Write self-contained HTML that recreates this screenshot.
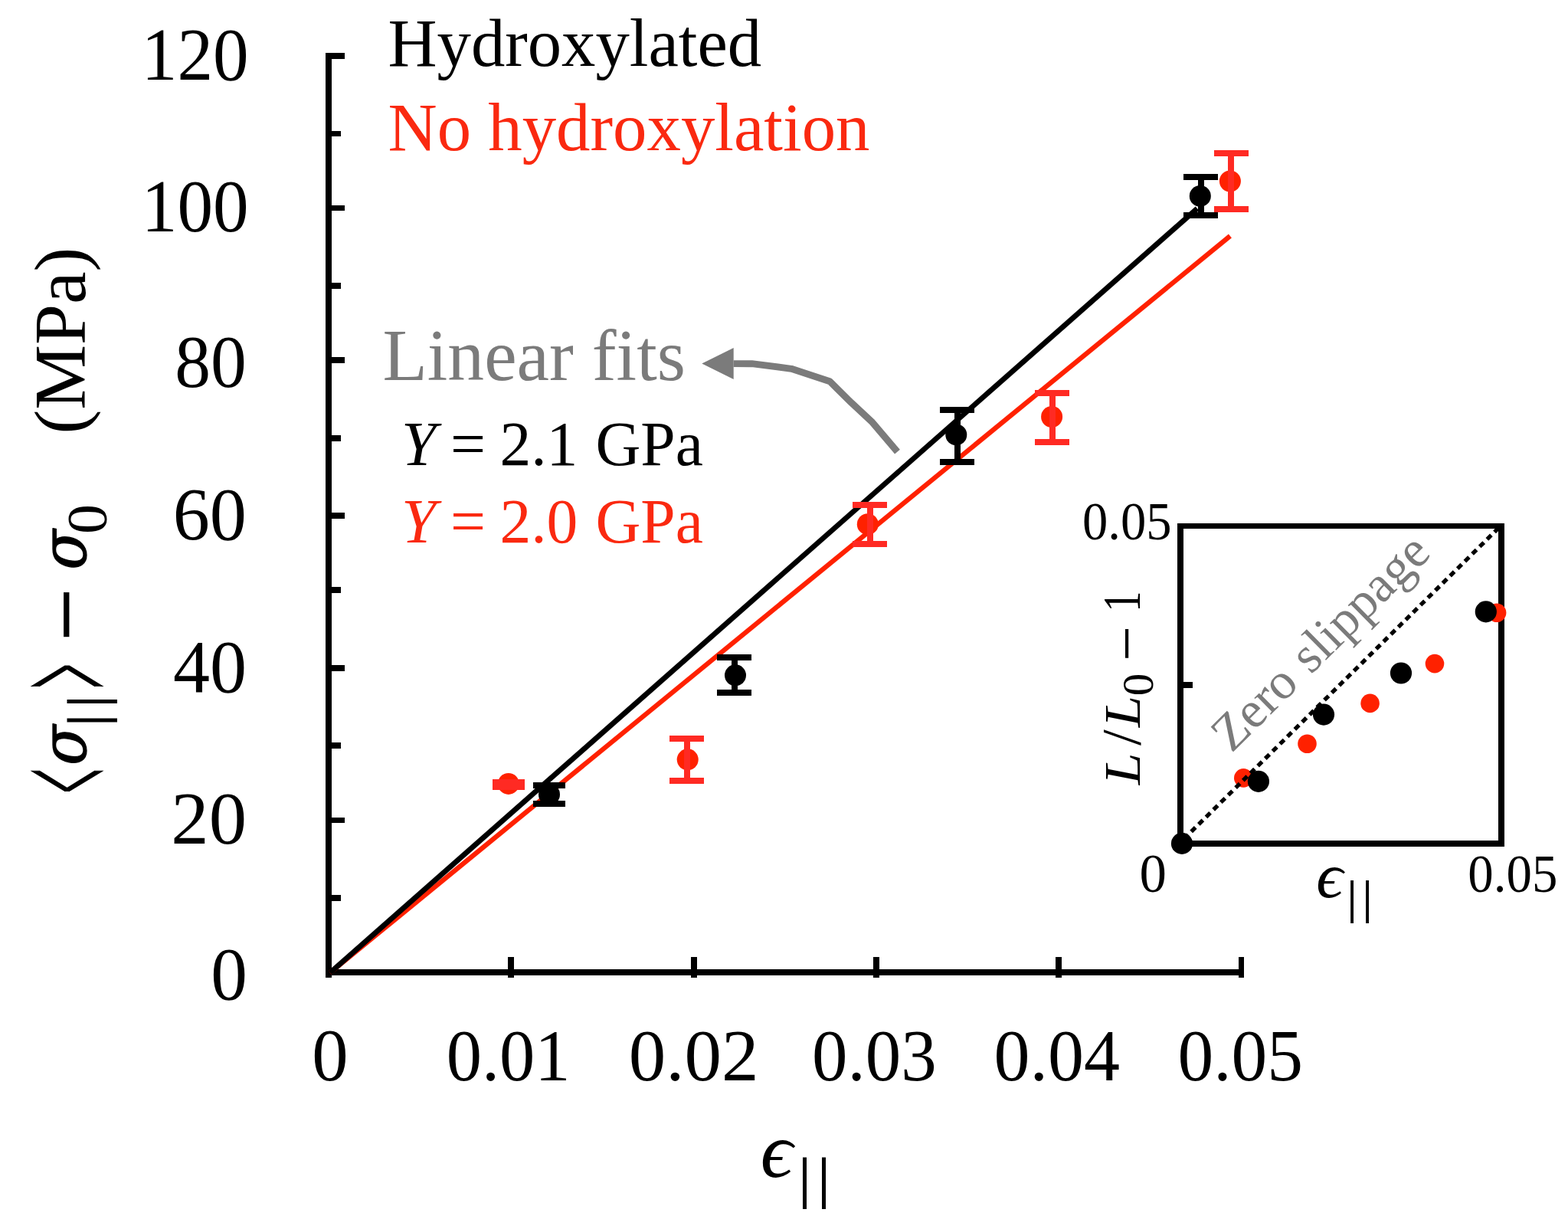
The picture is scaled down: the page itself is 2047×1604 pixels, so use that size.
<!DOCTYPE html>
<html lang="en"><head><meta charset="utf-8"><title>Stress-strain plot</title>
<style>
html,body{margin:0;padding:0;background:#fff;}
body{width:2047px;height:1604px;overflow:hidden;}
svg{display:block;}
text{font-family:"Liberation Serif", serif;}
.it{font-style:italic;}
</style></head><body>
<svg width="2047" height="1604" viewBox="0 0 2047 1604">
<rect width="2047" height="1604" fill="#fff"/>
<g shape-rendering="crispEdges" fill="#000">
<rect x="425" y="69" width="8" height="1207"/>
<rect x="425" y="1265" width="1199" height="8"/>
<rect x="429" y="69" width="21" height="8"/>
<rect x="429" y="171" width="16" height="7"/>
<rect x="429" y="268" width="21" height="7"/>
<rect x="429" y="369" width="16" height="8"/>
<rect x="429" y="466" width="21" height="8"/>
<rect x="429" y="568" width="16" height="8"/>
<rect x="429" y="669" width="21" height="8"/>
<rect x="429" y="766" width="16" height="8"/>
<rect x="429" y="868" width="21" height="8"/>
<rect x="429" y="969" width="16" height="8"/>
<rect x="429" y="1067" width="21" height="7"/>
<rect x="429" y="1168" width="16" height="8"/>
<rect x="663" y="1249" width="8" height="27"/>
<rect x="902" y="1249" width="8" height="27"/>
<rect x="1140" y="1249" width="8" height="27"/>
<rect x="1378" y="1249" width="8" height="27"/>
<rect x="1617" y="1249" width="7" height="27"/>
</g>
<line x1="430.8" y1="1269.5" x2="1605.9" y2="308" stroke="#ff2100" stroke-width="6.3"/>
<line x1="430.9" y1="1269.5" x2="1563" y2="272.1" stroke="#000" stroke-width="6.9"/>
<circle cx="663.8" cy="1022.9" r="14" fill="#ff2100"/><g fill="#ff2a23" shape-rendering="crispEdges"><rect x="660" y="1020.5" width="8" height="6.7"/><rect x="643" y="1016.5" width="42" height="8"/><rect x="643" y="1023.2" width="42" height="8"/></g>
<circle cx="897.7" cy="991.3" r="14" fill="#ff2100"/><g fill="#ff2a23" shape-rendering="crispEdges"><rect x="892.7" y="963.7" width="8" height="54.9"/><rect x="874.2" y="959.7" width="45" height="8"/><rect x="874.2" y="1014.6" width="45" height="8"/></g>
<circle cx="1132.8" cy="684.2" r="14" fill="#ff2100"/><g fill="#ff2a23" shape-rendering="crispEdges"><rect x="1131.7" y="659" width="8" height="50.6"/><rect x="1113.2" y="655" width="45" height="8"/><rect x="1113.2" y="705.6" width="45" height="8"/></g>
<circle cx="1373.1" cy="544" r="14" fill="#ff2100"/><g fill="#ff2a23" shape-rendering="crispEdges"><rect x="1369.8" y="513.2" width="8" height="63.9"/><rect x="1351.3" y="509.2" width="45" height="8"/><rect x="1351.3" y="573.1" width="45" height="8"/></g>
<circle cx="1605.9" cy="236.5" r="14" fill="#ff2100"/><g fill="#ff2a23" shape-rendering="crispEdges"><rect x="1603.3" y="200" width="8" height="72.5"/><rect x="1584.8" y="196" width="45" height="8"/><rect x="1584.8" y="268.5" width="45" height="8"/></g>
<circle cx="717" cy="1037" r="14" fill="#000"/><g fill="#000" shape-rendering="crispEdges"><rect x="713.1" y="1025" width="8" height="24"/><rect x="696.1" y="1021" width="42" height="8"/><rect x="696.1" y="1045" width="42" height="8"/></g>
<circle cx="960" cy="881.3" r="14" fill="#000"/><g fill="#000" shape-rendering="crispEdges"><rect x="954.8" y="857.6" width="8" height="46.4"/><rect x="936.3" y="853.6" width="45" height="8"/><rect x="936.3" y="900" width="45" height="8"/></g>
<circle cx="1248.3" cy="567.4" r="14" fill="#000"/><g fill="#000" shape-rendering="crispEdges"><rect x="1245.8" y="535.1" width="8" height="68.2"/><rect x="1227.3" y="531.1" width="45" height="8"/><rect x="1227.3" y="599.3" width="45" height="8"/></g>
<circle cx="1566.8" cy="255.9" r="14" fill="#000"/><g fill="#000" shape-rendering="crispEdges"><rect x="1563.8" y="231" width="8" height="50"/><rect x="1545.3" y="227" width="45" height="8"/><rect x="1545.3" y="277" width="45" height="8"/></g>
<path d="M957.7 474.6 L981.6 474.7 L1033.2 481.3 L1083.2 497.7 L1111.4 525.6 L1137.9 550.2 L1171.5 589.6" fill="none" stroke="#7b7b7b" stroke-width="8.9" stroke-linejoin="round"/>
<path d="M916.3 474.6 L957.7 453.9 L957.7 494.9 Z" fill="#7b7b7b"/>
<text transform="translate(184.84 104.03) scale(0.9324 0.9659)" font-size="100">120</text>
<text transform="translate(184.84 302.04) scale(0.9324 0.9644)" font-size="100">100</text>
<text transform="translate(228.19 505.23) scale(0.9362 0.9689)" font-size="100">80</text>
<text transform="translate(225.71 704.04) scale(0.9620 0.9630)" font-size="100">60</text>
<text transform="translate(225.88 903.03) scale(0.9602 0.9659)" font-size="100">40</text>
<text transform="translate(223.36 1101.13) scale(0.9864 0.9674)" font-size="100">20</text>
<text transform="translate(275.13 1304.14) scale(0.9529 0.9644)" font-size="100">0</text>
<text transform="translate(407.24 1410.13) scale(0.9482 0.9659)" font-size="100">0</text>
<text transform="translate(582.73 1409.66) scale(0.9253 0.9588)" font-size="100">0.01</text>
<text transform="translate(820.86 1409.66) scale(0.9701 0.9588)" font-size="100">0.02</text>
<text transform="translate(1060.11 1409.66) scale(0.9297 0.9588)" font-size="100">0.03</text>
<text transform="translate(1297.57 1409.66) scale(0.9402 0.9588)" font-size="100">0.04</text>
<text transform="translate(1537.39 1409.66) scale(0.9351 0.9588)" font-size="100">0.05</text>
<text transform="translate(506.5 85.5)" font-size="88.7">Hydroxylated</text>
<text transform="translate(506.6 195.6)" font-size="88.8" fill="#fa2910">No hydroxylation</text>
<text transform="translate(499.4 496)" font-size="95.6" fill="#7b7b7b">Linear fits</text>
<text transform="translate(524 607)" font-size="81.6"><tspan class="it">Y</tspan><tspan dx="-1.8"> = </tspan><tspan dx="-2">2.1</tspan><tspan dx="2.6"> GPa</tspan></text>
<text transform="translate(524 708.4)" font-size="81.6" fill="#fa2910"><tspan class="it">Y</tspan><tspan dx="-1.8"> = </tspan><tspan dx="-2">2.0</tspan><tspan dx="2.6"> GPa</tspan></text>
<text transform="translate(992.67 1536.28) scale(1.0444 1.0238)" font-size="100" font-style="italic">ϵ</text>
<text transform="translate(1040.5 1561.76) scale(1.0000 0.7462)" font-size="100" letter-spacing="4.98">||</text>
<text transform="translate(150.56 1035.52) rotate(-90) scale(0.5687 1.8980)" font-size="100" stroke="#000" stroke-width="1.3" stroke-linejoin="miter">&lt;</text>
<text transform="translate(111.93 998.68) rotate(-90) scale(0.7661 0.8309)" font-size="100" style="font-family:'DejaVu Serif','Liberation Serif',serif;font-style:italic" stroke="#000" stroke-width="1.6" stroke-linejoin="round">σ</text>
<text transform="translate(137.77 949.9) rotate(-90) scale(1.0000 0.7132)" font-size="100" letter-spacing="4.38">||</text>
<text transform="translate(150.56 898.57) rotate(-90) scale(0.5717 1.8980)" font-size="100" stroke="#000" stroke-width="1.3" stroke-linejoin="miter">&gt;</text>
<text transform="translate(135.81 837.25) rotate(-90) scale(1.2495 1.4800)" font-size="100">−</text>
<text transform="translate(111.93 743.38) rotate(-90) scale(0.7646 0.8309)" font-size="100" style="font-family:'DejaVu Serif','Liberation Serif',serif;font-style:italic" stroke="#000" stroke-width="1.6" stroke-linejoin="round">σ</text>
<text transform="translate(138.95 697.03) rotate(-90) scale(0.7812 0.7496)" font-size="100">0</text>
<text transform="translate(110.6 566.6) rotate(-90)" font-size="95.5">(MPa)</text>
<g fill="#000" shape-rendering="crispEdges">
<rect x="1537" y="683" width="8" height="421.5"/>
<rect x="1956" y="683" width="8" height="421.5"/>
<rect x="1537" y="683" width="427" height="7"/>
<rect x="1537" y="1097" width="427" height="7.5"/>
<rect x="1541" y="889.8" width="16" height="8"/>
</g>
<circle cx="1623.3" cy="1015.4" r="12.3" fill="#ff2100"/>
<circle cx="1706.5" cy="970.7" r="12.3" fill="#ff2100"/>
<circle cx="1788.6" cy="917.9" r="12.3" fill="#ff2100"/>
<circle cx="1873" cy="866.1" r="12.3" fill="#ff2100"/>
<circle cx="1954.1" cy="799.7" r="12.3" fill="#ff2100"/>
<line x1="1540.3" y1="1100.1" x2="1959.6" y2="685.9" stroke="#000" stroke-width="5.3" stroke-dasharray="7.7 5.87" stroke-dashoffset="-7.4"/>
<circle cx="1543" cy="1100.9" r="14.1" fill="#000"/>
<circle cx="1642.9" cy="1019.8" r="14.1" fill="#000"/>
<circle cx="1728" cy="932.6" r="14.1" fill="#000"/>
<circle cx="1829" cy="878.5" r="14.1" fill="#000"/>
<circle cx="1939.8" cy="798.4" r="14.1" fill="#000"/>
<text transform="translate(1413.1 703.87) scale(0.6655 0.6897)" font-size="100">0.05</text>
<text transform="translate(1487.44 1164.39) scale(0.7082 0.7096)" font-size="100">0</text>
<text transform="translate(1916.29 1164.04) scale(0.6691 0.7044)" font-size="100">0.05</text>
<text transform="translate(1718.3 1171.07) scale(0.8667 0.8332)" font-size="100" font-style="italic">ϵ</text>
<text transform="translate(1757.15 1191.83) scale(0.7800 0.6033)" font-size="100" letter-spacing="5.62">||</text>
<text transform="translate(1488.3 1024.26) rotate(-90) scale(0.7500 0.6794)" font-size="100" font-style="italic">L</text>
<text transform="translate(1488.38 972.9) rotate(-90) scale(0.7459 0.7179)" font-size="100">/</text>
<text transform="translate(1488.3 949.27) rotate(-90) scale(0.7423 0.6794)" font-size="100" font-style="italic">L</text>
<text transform="translate(1505.44 908.21) rotate(-90) scale(0.5882 0.5630)" font-size="100">0</text>
<text transform="translate(1498.83 862.86) rotate(-90) scale(0.8129 0.8400)" font-size="100">−</text>
<text transform="translate(1488 798.77) rotate(-90) scale(0.5447 0.6985)" font-size="100">1</text>
<text transform="translate(1607.7 983.5) rotate(-44.66)" font-size="67" fill="#7b7b7b">Zero<tspan dx="2.5"> slippage</tspan></text>
</svg></body></html>
